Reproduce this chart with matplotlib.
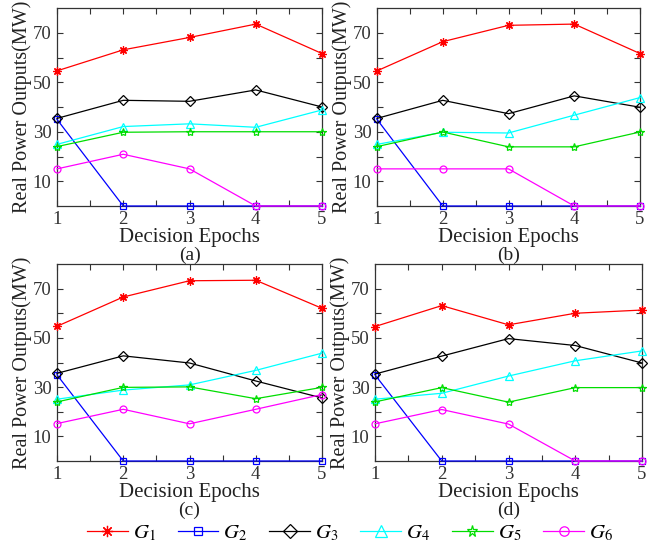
import matplotlib
matplotlib.use('Agg')
import matplotlib.pyplot as plt

plt.rcParams['font.family'] = ['Liberation Serif', 'DejaVu Serif']
plt.rcParams['mathtext.fontset'] = 'stix'

# Data (MW per decision epoch)
epochs = [1, 2, 3, 4, 5]
panel_tags = ['(a)', '(b)', '(c)', '(d)']
gen_names = ['$G_1$', '$G_2$', '$G_3$', '$G_4$', '$G_5$', '$G_6$']

g1 = [[54.6, 63.1, 68.1, 73.5, 61.6],
      [54.6, 66.4, 73.0, 73.5, 61.6],
      [54.7, 66.6, 73.2, 73.4, 62.0],
      [54.6, 63.1, 55.3, 60.0, 61.3]]
g2 = [[35.0, 0, 0, 0, 0],
      [35.0, 0, 0, 0, 0],
      [35.0, 0, 0, 0, 0],
      [35.0, 0, 0, 0, 0]]
g3 = [[35.4, 42.7, 42.3, 46.9, 40.0],
      [35.4, 42.7, 37.3, 44.5, 39.9],
      [35.6, 42.7, 39.8, 32.5, 25.6],
      [35.3, 42.6, 49.7, 46.9, 39.8]]
g4 = [[24.9, 32.1, 33.2, 31.8, 38.8],
      [24.9, 29.8, 29.5, 36.7, 43.8],
      [25.1, 28.8, 30.9, 36.8, 43.8],
      [25.1, 27.5, 34.5, 40.7, 44.7]]
g5 = [[24.0, 29.8, 30.0, 30.0, 30.0],
      [24.0, 29.9, 23.9, 23.9, 29.9],
      [24.0, 29.9, 30.1, 25.3, 29.9],
      [24.0, 29.8, 23.9, 29.8, 29.8]]
g6 = [[15.0, 20.9, 15.0, 0, 0],
      [15.0, 15.0, 15.0, 0, 0],
      [15.2, 21.0, 15.1, 21.0, 27.0],
      [15.1, 20.9, 15.0, 0, 0]]

series = [g1, g2, g3, g4, g5, g6]
colors = ['#ff0000', '#0000ff', '#000000', '#00ffff', '#00dd00', '#ff00ff']
markers = [(8, 2, 0), 's', 'D', '^', '*', 'o']
msizes = [6, 3.8, 5, 6, 6, 5]

# axes boxes in pixels (left, top, right, bottom) on a 652x546 canvas
W, H = 652, 546
boxes = [(57, 8, 322, 206), (377, 8, 640, 206),
         (57, 264, 322, 461), (375, 264, 642, 461)]

fig = plt.figure(figsize=(W / 100, H / 100), dpi=100)
axc = '#333333'
txtc = '#222222'
lines = []

for p in range(4):
    l, t, r, b = boxes[p]
    ax = fig.add_axes([l / W, 1 - b / H, (r - l) / W, (b - t) / H])
    for k in range(6):
        ln, = ax.plot(epochs, series[k][p], color=colors[k], lw=0.9,
                      marker=markers[k], ms=msizes[k], mfc='none',
                      mec=colors[k], mew=0.9, clip_on=False, zorder=3)
        if p == 0:
            lines.append(ln)
    ax.set_xlim(1, 5)
    ax.set_ylim(0, 80)
    ax.set_xticks(epochs)
    ax.set_xticks([1.5, 2.5, 3.5, 4.5], minor=True)
    ax.set_yticks([10, 30, 50, 70])
    ax.set_yticks([20, 40, 60], minor=True)
    ax.tick_params(which='both', direction='in', top=True, right=True, length=4,
                   width=0.8, colors=axc, labelsize=13.5)
    ax.tick_params(axis='x', pad=3.5)
    ax.tick_params(axis='y', pad=4)
    for s in ax.spines.values():
        s.set_color(axc)
        s.set_linewidth(0.9)
    ax.set_ylabel('Real Power Outputs(MW)', fontsize=14.5, color=txtc)
    ax.yaxis.set_label_coords(-25 / (r - l), 0.5)
    ax.annotate('Decision Epochs', xy=(0.5, 0), xycoords='axes fraction',
                xytext=(0, -31.5 * 0.72), textcoords='offset points',
                ha='center', va='center', fontsize=15, color=txtc)
    ax.annotate(panel_tags[p], xy=(0.5, 0), xycoords='axes fraction',
                xytext=(0, -49.5 * 0.72), textcoords='offset points',
                ha='center', va='center', fontsize=14, color=txtc)

fig.legend(lines, gen_names, loc='center', bbox_to_anchor=(350 / W, 1 - 533 / H),
           ncol=6, frameon=False, fontsize=15, handlelength=1.95,
           handletextpad=0.25, columnspacing=1.05, markerscale=1.35)

fig.savefig('out.png', dpi=100)
